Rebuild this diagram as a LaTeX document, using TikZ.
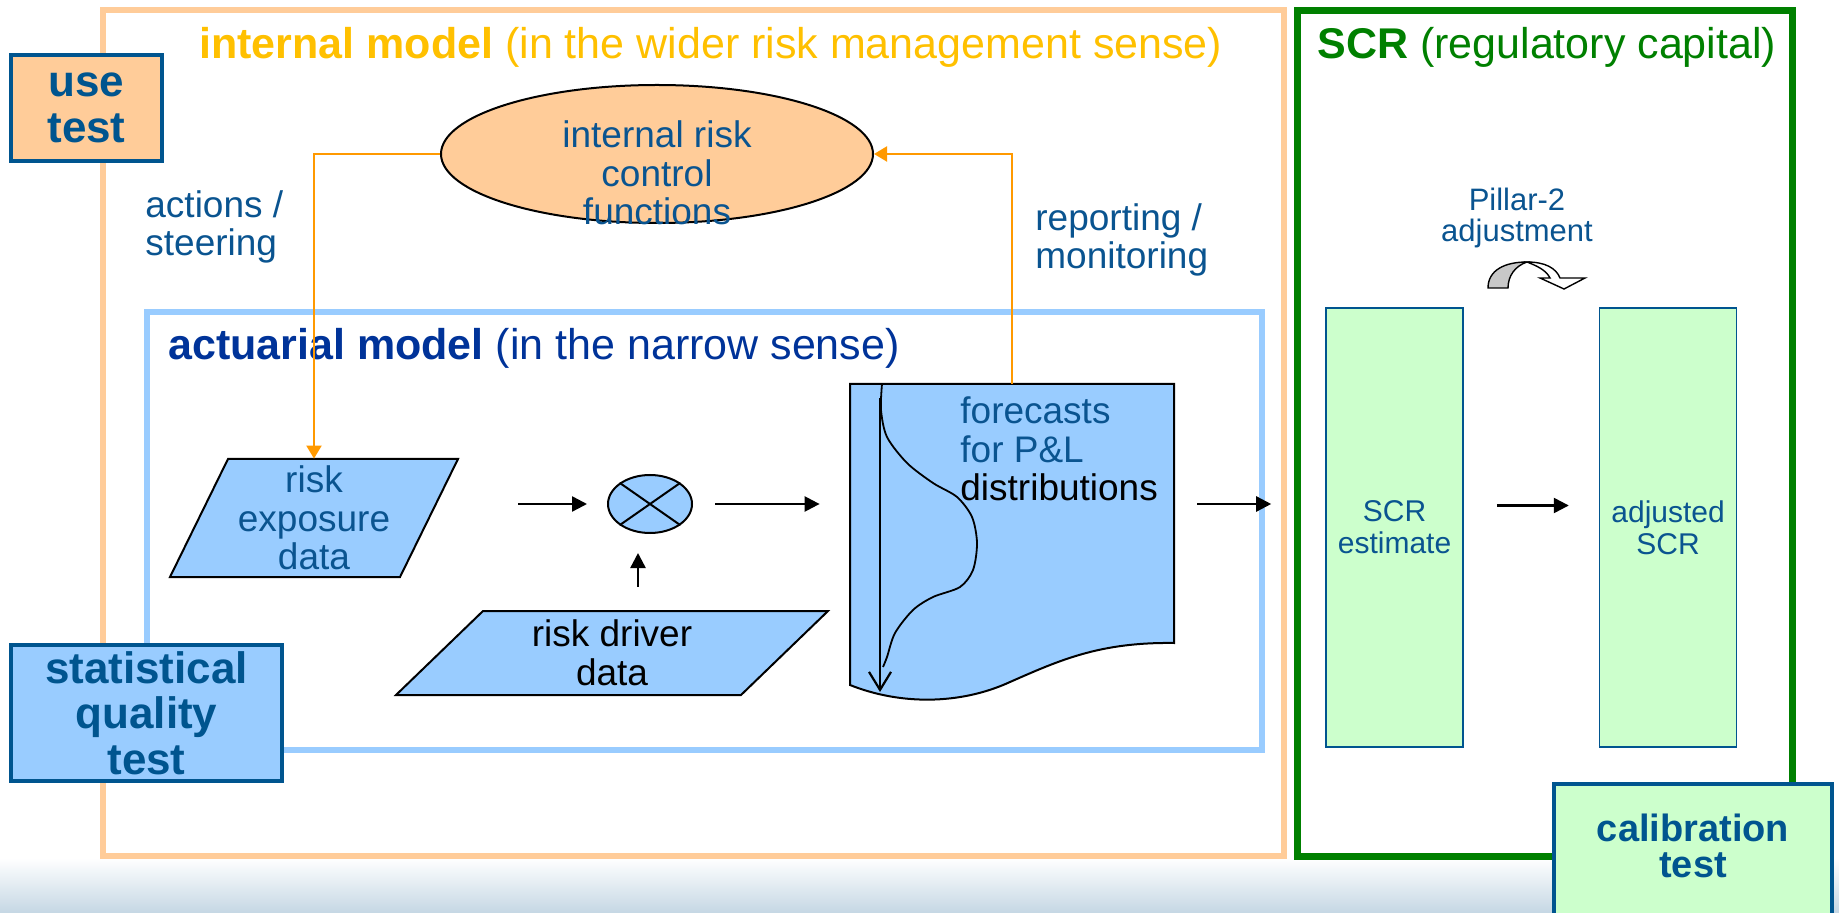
\documentclass[tikz,border=0pt]{standalone}
\usepackage{fontspec}
\setmainfont{Liberation Sans}
\usepackage{tikz}
\usetikzlibrary{positioning,shapes.geometric,arrows.meta,calc}

\definecolor{framepeach}{HTML}{FFCC99}
\definecolor{imgold}{HTML}{FFC000}
\definecolor{imnavy}{HTML}{003399}
\definecolor{txtblue}{HTML}{0A5490}
\definecolor{boxblue}{HTML}{00558F}
\definecolor{skyfill}{HTML}{99CCFF}
\definecolor{mintfill}{HTML}{CCFFCC}
\definecolor{scrgreen}{HTML}{008000}
\definecolor{arrorange}{HTML}{FF9900}
\definecolor{greyband}{HTML}{C8C8C8}
\definecolor{bgsteel}{HTML}{C5D7E4}

\begin{document}
\begin{tikzpicture}[x=0.5pt, y=-0.5pt, >={Triangle[length=7.5pt,width=7.5pt]},
    title/.style={anchor=base west, inner sep=0pt, font=\fontsize{21.5}{26}\selectfont},
    body/.style={inner sep=0pt, text=txtblue, font=\fontsize{18.5}{19.25}\selectfont},
    testbox/.style={draw=boxblue, line width=2pt, inner sep=0pt, align=center, text=boxblue, font=\bfseries\fontsize{22}{22.75}\selectfont},
    databox/.style={inner sep=0pt, align=center, font=\fontsize{18.5}{19.25}\selectfont},
    scrbox/.style={draw=boxblue, line width=0.8pt, fill=mintfill, minimum width=68.5pt, minimum height=219.5pt, inner sep=0pt, align=center, text=txtblue, font=\fontsize{15}{16}\selectfont},
    flow/.style={->, line width=1.2pt},
    feedback/.style={->, draw=arrorange, line width=1pt, >={Triangle[length=6.5pt,width=7.5pt]}}]
    \useasboundingbox (0,0) rectangle (1839,913);
    \shade[top color=white, bottom color=bgsteel] (0,858) rectangle (1839,913);

    % frames
    \draw[framepeach, line width=3pt] (103,10) rectangle (1284,856);
    \draw[skyfill, line width=3pt] (147,312) rectangle (1262,750);
    \draw[scrgreen, line width=3.5pt] (1297,11) rectangle (1792,856);

    \node[title, text=imgold] (imtitle) at (199,59) {\textbf{internal model} (in the wider risk management sense)};
    \node[title, text=imnavy] (amtitle) at (168,360) {\textbf{actuarial model} (in the narrow sense)};
    \node[title, text=scrgreen] (scrtitle) at (1317,59) {\textbf{SCR} (regulatory capital)};

    % tests
    \node[testbox, fill=framepeach, minimum width=75.5pt, minimum height=53pt] (usetest) at (86.5,108) {use\\test};
    \node[testbox, fill=skyfill, line width=1.8pt, minimum width=135.5pt, minimum height=68pt] (stattest) at (146.5,713) {statistical\\quality\\test};
    \node[testbox, fill=mintfill, minimum width=139pt, minimum height=100pt, anchor=north] (calbox) at (1693,782) {};
    \node[testbox, draw=none, font=\bfseries\fontsize{19}{18}\selectfont] (caltext) at (1693,846) {calibration\\test};

    % risk control
    \node[ellipse, draw, line width=1pt, fill=framepeach, minimum width=216pt, minimum height=69pt] (ctrl) at (657,154) {};
    \node[body, align=center] (ctrltext) at (657,173) {internal risk\\control\\functions};
    \node[body, align=left, anchor=west] (actlabel) at (145,227) {actions /\\steering};
    \node[body, align=left, anchor=west] (replabel) at (1035,240) {reporting /\\monitoring};

    % input data
    \filldraw[fill=skyfill, line width=1pt] (228,459) -- (458,459) -- (400,577) -- (170,577) -- cycle;
    \node[databox, text=txtblue, minimum width=115pt, minimum height=59pt] (riskexp) at (314,518) {risk\\exposure\\data};
    \filldraw[fill=skyfill, line width=1pt] (483,611) -- (828,611) -- (741,695) -- (396,695) -- cycle;
    \node[databox, minimum width=172.5pt, minimum height=42pt] (driver) at (612,653) {risk driver\\data};
    \node[ellipse, draw, line width=1pt, fill=skyfill, minimum width=42pt, minimum height=29pt, inner sep=0pt] (mult) at (650,504) {};
    \draw[line width=1pt] (mult.north east) -- (mult.south west) (mult.north west) -- (mult.south east);

    % forecast document
    \filldraw[fill=skyfill, line width=1pt] (850,384) -- (1174,384) -- (1174,643) .. controls (1100,642) and (1060,660) .. (1010,682) .. controls (960,705) and (900,705) .. (850,685) -- cycle;
    \node[minimum width=162pt, minimum height=151.5pt, inner sep=0pt] (fc) at (1012,535.5) {};
    \draw[line width=0.9pt] plot[smooth] coordinates {(882,384) (881,410) (887,437) (907,463) (933,483) (957,497) (972,517) (977,543) (973,570) (960,587) (933,597) (913,610) (895,633) (887,657) (883,667)};
    \draw[line width=1.1pt, -{Straight Barb[length=9pt,width=11pt]}] (880,398) -- (880,692);
    \node[body, align=left, anchor=west] (fctext) at (960,449) {forecasts\\for P\&L\\\textcolor{black}{distributions}};

    % SCR
    \node[scrbox] (screst) at (1394.5,527.5) {SCR\\estimate};
    \node[scrbox, right=67.5pt of screst] (adjscr) {adjusted\\SCR};
    \node[body, align=center, font=\fontsize{15.5}{15.5}\selectfont] (pillar) at (1517,218) {Pillar-2\\adjustment};
    \filldraw[fill=greyband, line width=0.7pt] (1488,288) .. controls (1488,270) and (1505,262) .. (1527,262) .. controls (1515,266) and (1508,276) .. (1508,288) -- cycle;
    \filldraw[fill=white, line width=0.7pt] (1527,262) .. controls (1545,262) and (1556,268) .. (1560,278) -- (1585,278) -- (1564,289) -- (1540,278) -- (1550,278) .. controls (1546,270) and (1537,266) .. (1527,262) -- cycle;

    % connectors
    \draw[feedback] (ctrl.west) -| (riskexp.north);
    \draw[feedback] (fc.north) |- (ctrl.east);
    \draw[flow, shorten <=44.5pt, shorten >=10pt] (riskexp.east |- mult.west) -- (mult.west);
    \draw[flow, shorten <=11pt, shorten >=15pt] (mult.east) -- (mult.east -| fc.west);
    \draw[flow, shorten <=12pt, shorten >=9.5pt] ([xshift=-6pt]mult.south |- driver.north) -- ([xshift=-6pt]mult.south);
    \draw[flow, shorten <=11.5pt, shorten >=27pt] (fc.east |- mult.east) -- (mult.east -| screst.west);
    \draw[flow, shorten <=16.5pt, shorten >=15pt] ([yshift=11pt]screst.east) -- ([yshift=11pt]adjscr.west);
\end{tikzpicture}
\end{document}
